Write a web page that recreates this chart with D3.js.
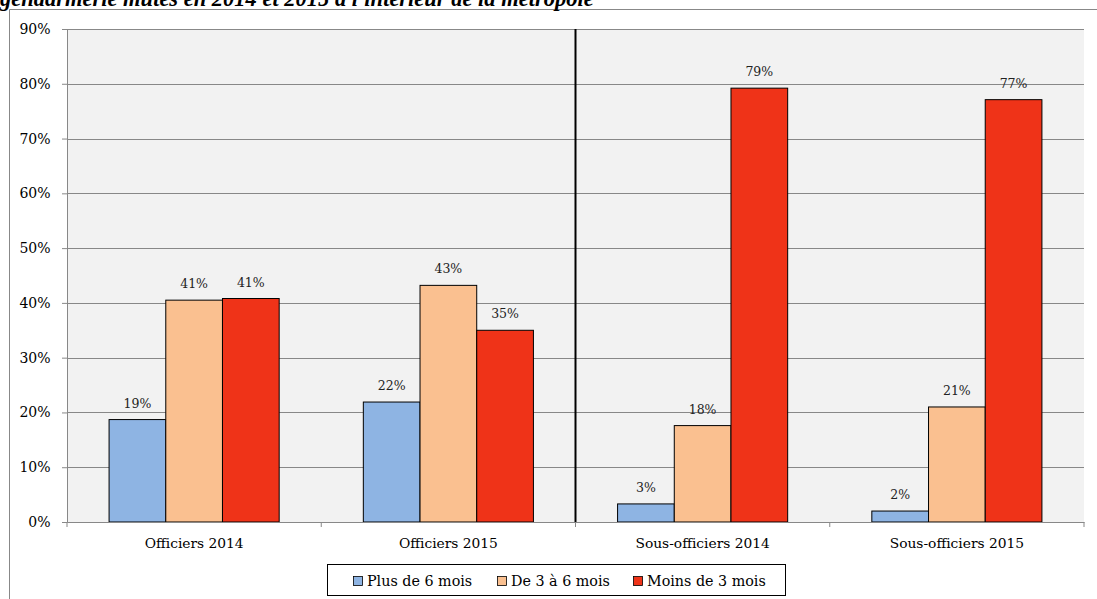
<!DOCTYPE html>
<html><head><meta charset="utf-8">
<script src="https://cdn.jsdelivr.net/npm/d3@7"></script>
<style>body{margin:0;background:#fff}svg{display:block}</style>
</head><body><svg id="c" width="1097" height="599"></svg>
<script>
const categories = ["Officiers 2014","Officiers 2015","Sous-officiers 2014","Sous-officiers 2015"];
const seriesNames = ["Plus de 6 mois","De 3 à 6 mois","Moins de 3 mois"];
const plus6 = [18.7, 21.9, 3.3, 2.0];
const de3a6 = [40.5, 43.2, 17.6, 21.0];
const moins3 = [40.8, 35.0, 79.2, 77.1];
const labelsPlus6 = ["19%","22%","3%","2%"];
const labelsDe3a6 = ["41%","43%","18%","21%"];
const labelsMoins3 = ["41%","35%","79%","77%"];
const yTicks = [0,10,20,30,40,50,60,70,80,90];
const colors = ["#8eb4e3","#fac090","#ef3318"];
const title = "gendarmerie mutés en 2014 et 2015 à l'intérieur de la métropole";

const series = [plus6, de3a6, moins3];
const labels = [labelsPlus6, labelsDe3a6, labelsMoins3];
const FONT = "'DejaVu Serif', serif";
const TFONT = "'Liberation Serif', 'DejaVu Serif', serif";

const svg = d3.select("#c");
const L = 67, R = 1084, T = 29, B = 522;

// frame
svg.append("line").attr("x1",9.5).attr("x2",1097).attr("y1",9.5).attr("y2",9.5).attr("stroke","#888");
svg.append("line").attr("x1",9.5).attr("x2",9.5).attr("y1",9.5).attr("y2",599).attr("stroke","#888");
svg.append("text").attr("x",0).attr("y",5.5).style("font-family",TFONT).style("font-size","22.5px").style("font-style","italic").style("font-weight","bold").text(title);

const x = d3.scaleBand().domain(categories).range([L,R]).padding(0);
const y = d3.scaleLinear().domain([0,90]).range([B,T]);

svg.append("rect").attr("x",L).attr("y",T).attr("width",R-L).attr("height",B-T).attr("fill","#f2f2f2");

// gridlines + y axis
const yAxis = d3.axisLeft(y).tickValues(yTicks).tickFormat(d=>d+"%").tickSize(5).tickPadding(11.5);
const gy = svg.append("g").attr("transform",`translate(${L},0)`).call(yAxis);
gy.select(".domain").attr("stroke","#888");
gy.selectAll(".tick line").attr("stroke","#888");
gy.selectAll(".tick text").style("font-family",FONT).style("font-size","14px").attr("fill","#000");
svg.append("g").selectAll("line").data(yTicks.filter(d=>d>0)).join("line")
  .attr("x1",L).attr("x2",R).attr("y1",d=>Math.round(y(d))+0.5).attr("y2",d=>Math.round(y(d))+0.5).attr("stroke","#888");

// separator
svg.append("line").attr("x1",x(categories[2])).attr("x2",x(categories[2])).attr("y1",T).attr("y2",B).attr("stroke","#000").attr("stroke-width",2);

// bars
const bw = 56.7;
series.forEach((vals,si)=>{
  const g = svg.append("g");
  g.selectAll("rect").data(vals).join("rect")
    .attr("x",(d,i)=>x(categories[i])+x.bandwidth()/2+(si-1.5)*bw)
    .attr("y",d=>y(d)).attr("width",bw).attr("height",d=>B-y(d))
    .attr("fill",colors[si]).attr("stroke","#000").attr("stroke-width",1);
  g.selectAll("text").data(vals).join("text")
    .attr("x",(d,i)=>x(categories[i])+x.bandwidth()/2+(si-1)*bw)
    .attr("y",d=>y(d)-12).attr("text-anchor","middle")
    .style("font-family",FONT).style("font-size","12.5px").attr("fill","#222")
    .text((d,i)=>labels[si][i]);
});

// x axis
const xAxis = d3.axisBottom(x).tickSize(0).tickPadding(16);
const gx = svg.append("g").attr("transform",`translate(0,${B})`).call(xAxis);
gx.select(".domain").attr("stroke","#888");
gx.selectAll(".tick text").style("font-family",FONT).style("font-size","13.8px").attr("fill","#000");
svg.append("g").selectAll("line").data([0,1,2,3,4]).join("line")
  .attr("x1",i=>L+i*x.bandwidth()).attr("x2",i=>L+i*x.bandwidth()).attr("y1",B).attr("y2",B+5).attr("stroke","#888");

// legend
const lg = svg.append("g");
lg.append("rect").attr("x",327.5).attr("y",564.5).attr("width",458).attr("height",31).attr("fill","#fff").attr("stroke","#000");
const lx = [353,497,633];
seriesNames.forEach((n,i)=>{
  lg.append("rect").attr("x",lx[i]+0.5).attr("y",576.5).attr("width",9).attr("height",9).attr("fill",colors[i]).attr("stroke","#000").attr("stroke-width",0.8);
  lg.append("text").attr("x",lx[i]+14).attr("y",586).style("font-family",FONT).style("font-size","14.3px").text(n);
});
</script></body></html>
